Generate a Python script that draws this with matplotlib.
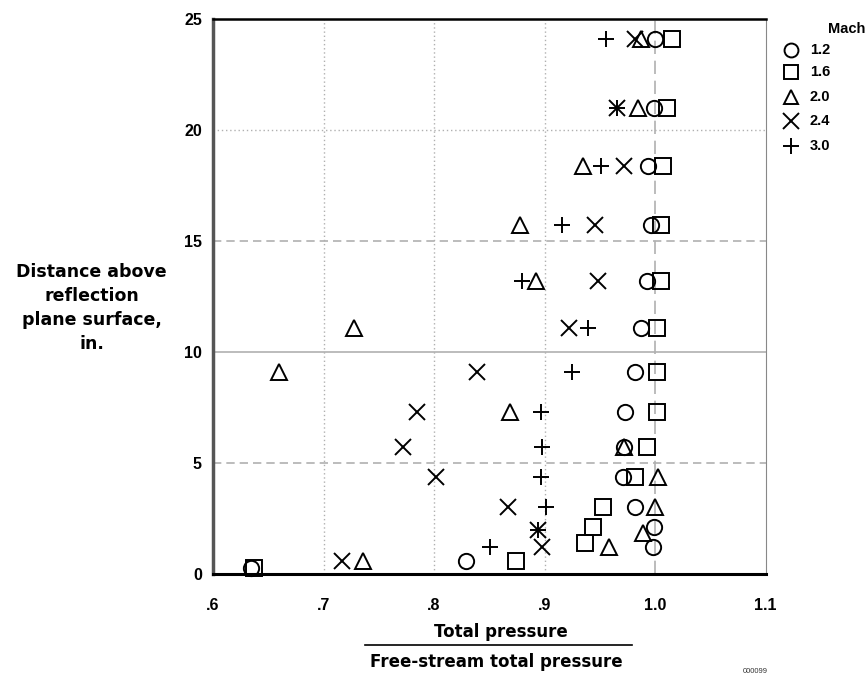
import matplotlib
matplotlib.use("Agg")
import matplotlib.pyplot as plt
from matplotlib.lines import Line2D

plt.rcParams['font.family'] = ['Liberation Sans', 'DejaVu Sans']

# Distance above reflection plane surface (in.) and pressure ratios per Mach number
mach_labels = ["1.2", "1.6", "2.0", "2.4", "3.0"]

m12_y = [24.1, 21.0, 18.4, 15.7, 13.2, 11.1, 9.1, 7.3, 5.7, 4.35, 3.0, 2.1, 1.2, 0.6, 0.25]
m12_x = [1.000, 0.999, 0.994, 0.996, 0.993, 0.987, 0.982, 0.973, 0.972, 0.971, 0.982, 0.999, 0.998, 0.829, 0.634]

m16_y = [24.1, 21.0, 18.4, 15.7, 13.2, 11.1, 9.1, 7.3, 5.7, 4.35, 3.0, 2.1, 1.4, 0.6, 0.25]
m16_x = [1.015, 1.011, 1.007, 1.005, 1.005, 1.002, 1.002, 1.002, 0.993, 0.982, 0.953, 0.944, 0.937, 0.874, 0.637]

m20_y = [24.1, 21.0, 18.4, 15.7, 13.2, 11.1, 9.1, 7.3, 5.7, 4.35, 3.0, 1.85, 1.2, 0.6]
m20_x = [0.987, 0.985, 0.935, 0.878, 0.892, 0.728, 0.660, 0.869, 0.972, 1.003, 1.000, 0.989, 0.958, 0.736]

m24_y = [24.1, 21.0, 18.4, 15.7, 13.2, 11.1, 9.1, 7.3, 5.7, 4.35, 3.0, 2.0, 1.2, 0.6]
m24_x = [0.982, 0.966, 0.972, 0.946, 0.948, 0.922, 0.839, 0.785, 0.772, 0.802, 0.867, 0.894, 0.898, 0.717]

m30_y = [24.1, 21.0, 18.4, 15.7, 13.2, 11.1, 9.1, 7.3, 5.7, 4.35, 3.0, 2.0, 1.2]
m30_x = [0.956, 0.966, 0.951, 0.916, 0.880, 0.939, 0.925, 0.897, 0.898, 0.897, 0.901, 0.894, 0.851]

x_ticks = [0.6, 0.7, 0.8, 0.9, 1.0, 1.1]
x_ticklabels = [".6", ".7", ".8", ".9", "1.0", "1.1"]
y_ticks = [0, 5, 10, 15, 20, 25]

fig = plt.figure(figsize=(8.66, 6.8), dpi=100)
ax = fig.add_axes([0.246, 0.156, 0.638, 0.816])
ax.set_xlim(0.6, 1.1)
ax.set_ylim(0, 25)

# grid lines
gc = '#b0b0b0'
for xv in [0.7, 0.8, 0.9]:
    ax.axvline(xv, color=gc, lw=1.0, ls=(0, (1, 2)), zorder=0)
ax.axvline(1.0, color=gc, lw=1.2, ls=(0, (8, 4)), zorder=0)
ax.axhline(5, color=gc, lw=1.2, ls=(0, (5, 3)), zorder=0)
ax.axhline(10, color=gc, lw=1.2, ls='-', zorder=0)
ax.axhline(15, color=gc, lw=1.2, ls=(0, (5, 3)), zorder=0)
ax.axhline(20, color=gc, lw=1.0, ls=(0, (1, 2)), zorder=0)

ms = 11
mew = 1.4
series = [
    (m12_x, m12_y, 'o'),
    (m16_x, m16_y, 's'),
    (m20_x, m20_y, '^'),
    (m24_x, m24_y, 'x'),
    (m30_x, m30_y, '+'),
]
for (xs, ys, mk), lab in zip(series, mach_labels):
    size = ms if mk not in ('x', '+') else ms + 1
    ax.plot(xs, ys, ls='none', marker=mk, ms=size, mfc='none', mec='black',
            mew=mew, label=lab, clip_on=False, zorder=3)

ax.set_xticks(x_ticks)
ax.set_xticklabels(x_ticklabels)
ax.set_yticks(y_ticks)
ax.tick_params(length=0, labelsize=11.5)
ax.tick_params(axis='x', pad=17)
ax.tick_params(axis='y', pad=8)
for t in ax.get_xticklabels() + ax.get_yticklabels():
    t.set_fontweight('bold')

ax.spines['bottom'].set_linewidth(2.2)
ax.spines['top'].set_linewidth(1.8)
ax.spines['left'].set_linewidth(2.5)
ax.spines['left'].set_color('#555555')
ax.spines['right'].set_linewidth(0.8)
ax.spines['right'].set_color('#888888')

lab_font = ['DejaVu Sans']
# y label
fig.text(0.106, 0.547, "Distance above\nreflection\nplane surface,\nin.", ha='center', va='center',
         fontsize=12.5, fontweight='bold', linespacing=1.45, family=lab_font)

# x label as fraction
fig.text(0.578, 0.070, "Total pressure", ha='center', va='center', fontsize=12, fontweight='bold', family=lab_font)
fig.add_artist(Line2D([0.422, 0.730], [0.052, 0.052], transform=fig.transFigure, color='black', lw=1.2))
fig.text(0.573, 0.027, "Free-stream total pressure", ha='center', va='center', fontsize=12, fontweight='bold', family=lab_font)
fig.text(0.872, 0.007, "000099", ha='center', va='bottom', fontsize=5.5, color='#333333')

# legend
fig.text(0.999, 0.957, "Mach", ha='right', va='center', fontsize=10.5, fontweight='bold')
leg_y = [0.926, 0.894, 0.858, 0.822, 0.786]
leg_markers = ['o', 's', '^', 'x', '+']
for yy, mk, lab in zip(leg_y, leg_markers, mach_labels):
    fig.add_artist(Line2D([0.913], [yy], transform=fig.transFigure, marker=mk, ms=10 if mk not in ('x', '+') else 11,
                          mfc='none', mec='black', mew=1.4, ls='none'))
    fig.text(0.935, yy, lab, ha='left', va='center', fontsize=10.5, fontweight='bold')

fig.savefig("out.png", dpi=100)
